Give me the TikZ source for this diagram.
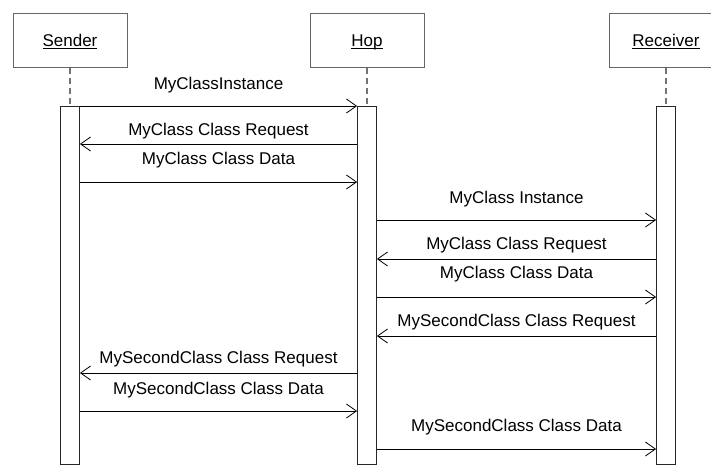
\documentclass[tikz,border=0pt]{standalone}
\usepackage{fontspec}
\setmainfont{Liberation Sans}
\usetikzlibrary{arrows.meta,calc}
\newcommand*{\msg}[6]{%
\draw[msgline] (#3 |- 0,#2) to (#4 |- 0,#2);
\node[msglabel] (#1) at ($(#3 |- 0,#2)!0.5!(#4 |- 0,#2) + (0,-#5)$) {#6};}
\newcommand*{\objname}[1]{\underline{\smash{#1}}}

\begin{document}
\begin{tikzpicture}[x=1pt, y=-1pt, font=\fontsize{17}{20}\selectfont,
  headbox/.style={draw=black!60, line width=1pt, minimum width=114pt, minimum height=54pt, inner sep=0pt, text height=12pt, text depth=0pt},
  actbar/.style={draw=black!85, fill=white, line width=0.8pt, minimum width=19pt, minimum height=358pt, inner sep=0pt, anchor=north},
  lifeline/.style={draw=black!55, line width=1.2pt, dash pattern=on 6pt off 4pt},
  msgline/.style={-{Straight Barb[length=10pt,width=14pt]}, line width=0.8pt},
  msglabel/.style={inner sep=0pt}]

\useasboundingbox (0,0) rectangle (711,468);
\clip (0,0) rectangle (711,468);

\def\xs{70}
\def\xh{367}
\def\xr{666}
\def\ytop{106}

% heads
\node[headbox] (sender) at (\xs,41) {\objname{Sender}};
\node[headbox] (hop) at (\xh,41) {\objname{Hop}};
\node[headbox] (receiver) at (\xr,41) {\objname{Receiver}};

% activation bars
\node[actbar] (sbar) at (\xs,\ytop) {};
\node[actbar] (hbar) at (\xh,\ytop) {};
\node[actbar] (rbar) at (\xr,\ytop) {};

\draw[lifeline] (sender.south) to (sbar.north);
\draw[lifeline] (hop.south) to (hbar.north);
\draw[lifeline] (receiver.south) to (rbar.north);

% messages
\msg{m1}{106}{sbar.east}{hbar.west}{21}{MyClassInstance}
\msg{m2}{144}{hbar.west}{sbar.east}{13}{MyClass Class Request}
\msg{m3}{182}{sbar.east}{hbar.west}{22}{MyClass Class Data}
\msg{m4}{220}{hbar.east}{rbar.west}{21}{MyClass Instance}
\msg{m5}{259}{rbar.west}{hbar.east}{14}{MyClass Class Request}
\msg{m6}{297}{hbar.east}{rbar.west}{23}{MyClass Class Data}
\msg{m7}{336}{rbar.west}{hbar.east}{14}{MySecondClass Class Request}
\msg{m8}{373}{hbar.west}{sbar.east}{14}{MySecondClass Class Request}
\msg{m9}{411}{sbar.east}{hbar.west}{21}{MySecondClass Class Data}
\msg{m10}{449}{hbar.east}{rbar.west}{22}{MySecondClass Class Data}

\end{tikzpicture}
\end{document}
